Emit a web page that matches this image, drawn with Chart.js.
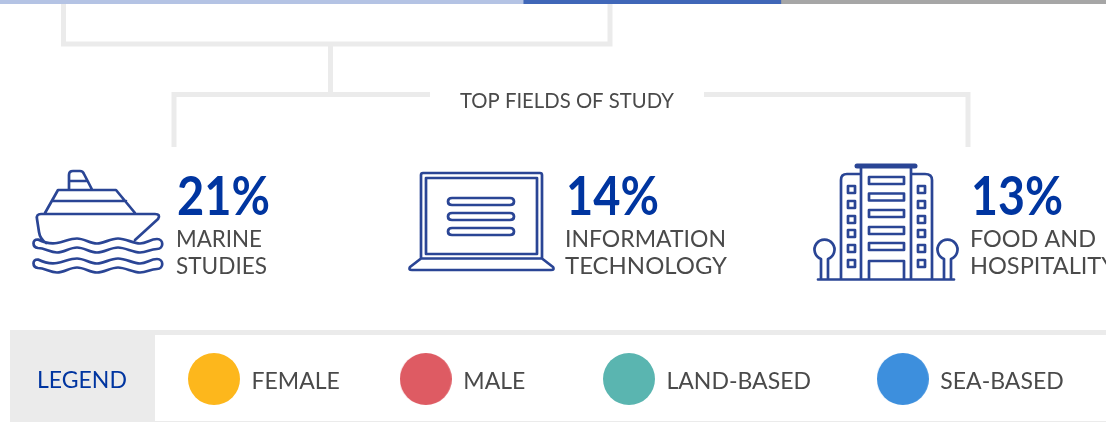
<!DOCTYPE html>
<html>
<head>
<meta charset="utf-8">
<script src="https://cdn.jsdelivr.net/npm/chart.js@4"></script>
<style>
  html, body { margin: 0; padding: 0; width: 1106px; height: 422px; overflow: hidden; background: #fff; }
  #topBar { position: absolute; left: 0; top: 0; z-index: 2; }
  #mainChart { position: absolute; left: 0; top: 0; }
</style>
</head>
<body>
<canvas id="mainChart" width="1300" height="700"></canvas>
<canvas id="topBar" width="1106" height="4"></canvas>
<script>
// top strip, share of each group (only the colours are visible in the crop)
const barSegments = [47.3, 23.3, 29.4];
const barColors = ['#B4C3E4', '#4067B8', '#A6A6A6'];

// top fields of study
const fieldValues = [21, 14, 13];
const fieldNames = [['MARINE', 'STUDIES'], ['INFORMATION', 'TECHNOLOGY'], ['FOOD AND', 'HOSPITALITY']];

// legend
const legendLabels = ['FEMALE', 'MALE', 'LAND-BASED', 'SEA-BASED'];
const legendColors = ['#FDB71C', '#DE5B63', '#5AB5B0', '#3D8FDD'];
// chart.js only has one gap size, trailing spaces widen the odd ones
const legendExtraSpaces = [0, 3, 1, 0];

const GREY = '#EBEBEB', TEXT = '#4A4A4A', NAVY = '#0035A0', ICON = '#2A4595';
const FONT = 'Lato, "Open Sans", sans-serif';

new Chart('topBar', {
  type: 'bar',
  data: {
    labels: ['share'],
    datasets: barSegments.map((v, i) => ({
      data: [v], backgroundColor: barColors[i], barPercentage: 1, categoryPercentage: 1
    }))
  },
  options: {
    indexAxis: 'y', responsive: false, animation: false,
    plugins: { legend: { display: false }, tooltip: { enabled: false } },
    scales: {
      x: { stacked: true, display: false, min: 0, max: 100 },
      y: { stacked: true, display: false }
    }
  }
});

// legend dots are bigger than chart.js allows, so hand it a small canvas as point style
function makeDot(color) {
  const c = document.createElement('canvas');
  c.width = 52; c.height = 57;
  const g = c.getContext('2d');
  g.fillStyle = color;
  g.beginPath(); g.arc(26, 26, 26, 0, Math.PI * 2); g.fill();
  return c;
}

// text column positions for each field: percent, names, percent width, name widths
const fieldLayout = [
  { px: 177, nx: 176, pw: 93, nw: [86, 91] },
  { px: 566, nx: 565, pw: 93, nw: [161, 162] },
  { px: 971, nx: 970, pw: 92, nw: [126, 146] }
];

const iconPaths = [
  // ship
  'M69 190V175Q69 171 73 171H80Q83 171 84 174L92 189.5M70 181H87' +
  'M45 213L58 190H116L135 213M52 201H126' +
  'M135 240L158 219Q161 214 155 214H41Q36 214 37 219L39 232Q40 239 46 243' +
  'M38 239.5C45 243 50 244 57 243S70 238.5 77 238.5S90 243.5 97 243.5S110 238.5 118 238.5S133 243.5 140 243.5S150 239 157 239C164 239 164 249 157 249C150 249 147 252.5 140 252.5S125 247.5 118 247.5S104 252.5 97 252.5S84 247.5 77 247.5S64 252.5 57 252.5S45 248 38 248C32 247 32 239 38 239.5Z' +
  'M38 259.5C45 263 50 264 57 263S70 258.5 77 258.5S90 263.5 97 263.5S110 258.5 118 258.5S133 263.5 140 263.5S150 259 157 259C164 259 164 269 157 269C150 269 147 272.5 140 272.5S125 267.5 118 267.5S104 272.5 97 272.5S84 267.5 77 267.5S64 272.5 57 272.5S45 268 38 268C32 267 32 259 38 259.5Z',
  // laptop
  'M421 258.5V175Q421 173 423 173H540Q542 173 542 175V258.5Z' +
  'M426 178H537V254H426Z' +
  'M421 258.5L410 267Q408 270 412 270H551Q555 270 553 267L542 258.5' +
  'M452 198H510Q514 198 514 201.5T510 205H452Q448 205 448 201.5T452 198Z' +
  'M452 213H510Q514 213 514 216.5T510 220H452Q448 220 448 216.5T452 213Z' +
  'M452 228H510Q514 228 514 231.5T510 235H452Q448 235 448 231.5T452 228Z',
  // building
  'M861 168V279M911 168V279M861 174H847Q841 174 841 180V279M911 174H925Q932 174 932 180V279' +
  'M818 279.5H954' +
  'M869 177H904V184H869ZM869 193.5H904V200.5H869ZM869 210H904V217H869ZM869 227H904V234H869ZM869 243H904V250H869Z' +
  'M869 279V261H904V279' +
  'M848 186H855V193H848ZM848 201H855V208H848ZM848 216H855V223H848ZM848 230H855V237H848ZM848 245H855V252H848ZM848 260H855V267H848Z' +
  'M918 186H925V193H918ZM918 201H925V208H918ZM918 216H925V223H918ZM918 230H925V237H918ZM918 245H925V252H918ZM918 260H925V267H918Z' +
  'M821 279V259A10 10 0 1 1 828 259V279M944 279V259A10 10 0 1 1 951 259V279'
];

const infographic = {
  id: 'infographic',
  beforeDraw(chart) {
    const ctx = chart.ctx;
    // the legend clips to its own box, and the big dots stick out of it
    chart.legend.bottom += 10;
    ctx.save();
    ctx.strokeStyle = GREY;
    ctx.lineWidth = 5;
    ctx.lineJoin = 'miter';
    // upper bracket and its stem
    ctx.beginPath();
    ctx.moveTo(63.5, 0); ctx.lineTo(63.5, 44); ctx.lineTo(610, 44); ctx.lineTo(610, 0);
    ctx.moveTo(330.5, 44); ctx.lineTo(330.5, 92);
    ctx.stroke();
    // lower bracket, broken for the title
    ctx.beginPath();
    ctx.moveTo(174, 147); ctx.lineTo(174, 94.5); ctx.lineTo(430, 94.5);
    ctx.moveTo(704, 94.5); ctx.lineTo(968, 94.5); ctx.lineTo(968, 147);
    ctx.stroke();
    // legend panel
    ctx.fillStyle = GREY;
    ctx.fillRect(10, 330, 1096, 5);
    ctx.fillRect(10, 330, 145, 92);
    ctx.fillRect(155, 421, 951, 1);
    ctx.restore();
  },
  afterDraw(chart) {
    const ctx = chart.ctx;
    ctx.save();
    ctx.textBaseline = 'alphabetic';
    ctx.fillStyle = TEXT;
    ctx.font = '21px ' + FONT;
    ctx.fillText('TOP FIELDS OF STUDY', 460, 108, 214);

    fieldValues.forEach((v, i) => {
      const f = fieldLayout[i];
      ctx.fillStyle = NAVY;
      ctx.font = 'bold 53px ' + FONT;
      ctx.fillText(v + '%', f.px, 215, f.pw);
      ctx.fillStyle = TEXT;
      ctx.font = '24px ' + FONT;
      ctx.fillText(fieldNames[i][0], f.nx, 247, f.nw[0]);
      ctx.fillText(fieldNames[i][1], f.nx, 274, f.nw[1]);
    });

    ctx.fillStyle = NAVY;
    ctx.font = '23px ' + FONT;
    ctx.fillText('LEGEND', 37, 388, 90);

    ctx.strokeStyle = ICON;
    ctx.lineWidth = 2.7;
    ctx.lineJoin = 'round';
    ctx.lineCap = 'round';
    iconPaths.forEach(p => ctx.stroke(new Path2D(p)));
    // flat roof of the building
    ctx.lineWidth = 5;
    ctx.beginPath(); ctx.moveTo(857, 166); ctx.lineTo(915, 166); ctx.stroke();
    ctx.restore();
  }
};

new Chart('mainChart', {
  type: 'bar',
  data: { labels: [], datasets: [] },
  options: {
    responsive: false, animation: false,
    layout: { padding: { left: 128, top: 310 } },
    scales: { x: { display: false }, y: { display: false } },
    plugins: {
      tooltip: { enabled: false },
      legend: {
        position: 'top', align: 'start',
        labels: {
          usePointStyle: true, pointStyleWidth: 52, padding: 60,
          font: { family: FONT, size: 23 },
          generateLabels: () => legendLabels.map((t, i) => ({
            text: t + ' '.repeat(legendExtraSpaces[i]), fontColor: TEXT,
            pointStyle: makeDot(legendColors[i]),
            fillStyle: legendColors[i], strokeStyle: legendColors[i], lineWidth: 0, hidden: false
          }))
        }
      }
    }
  },
  plugins: [infographic]
});
</script>
</body>
</html>
